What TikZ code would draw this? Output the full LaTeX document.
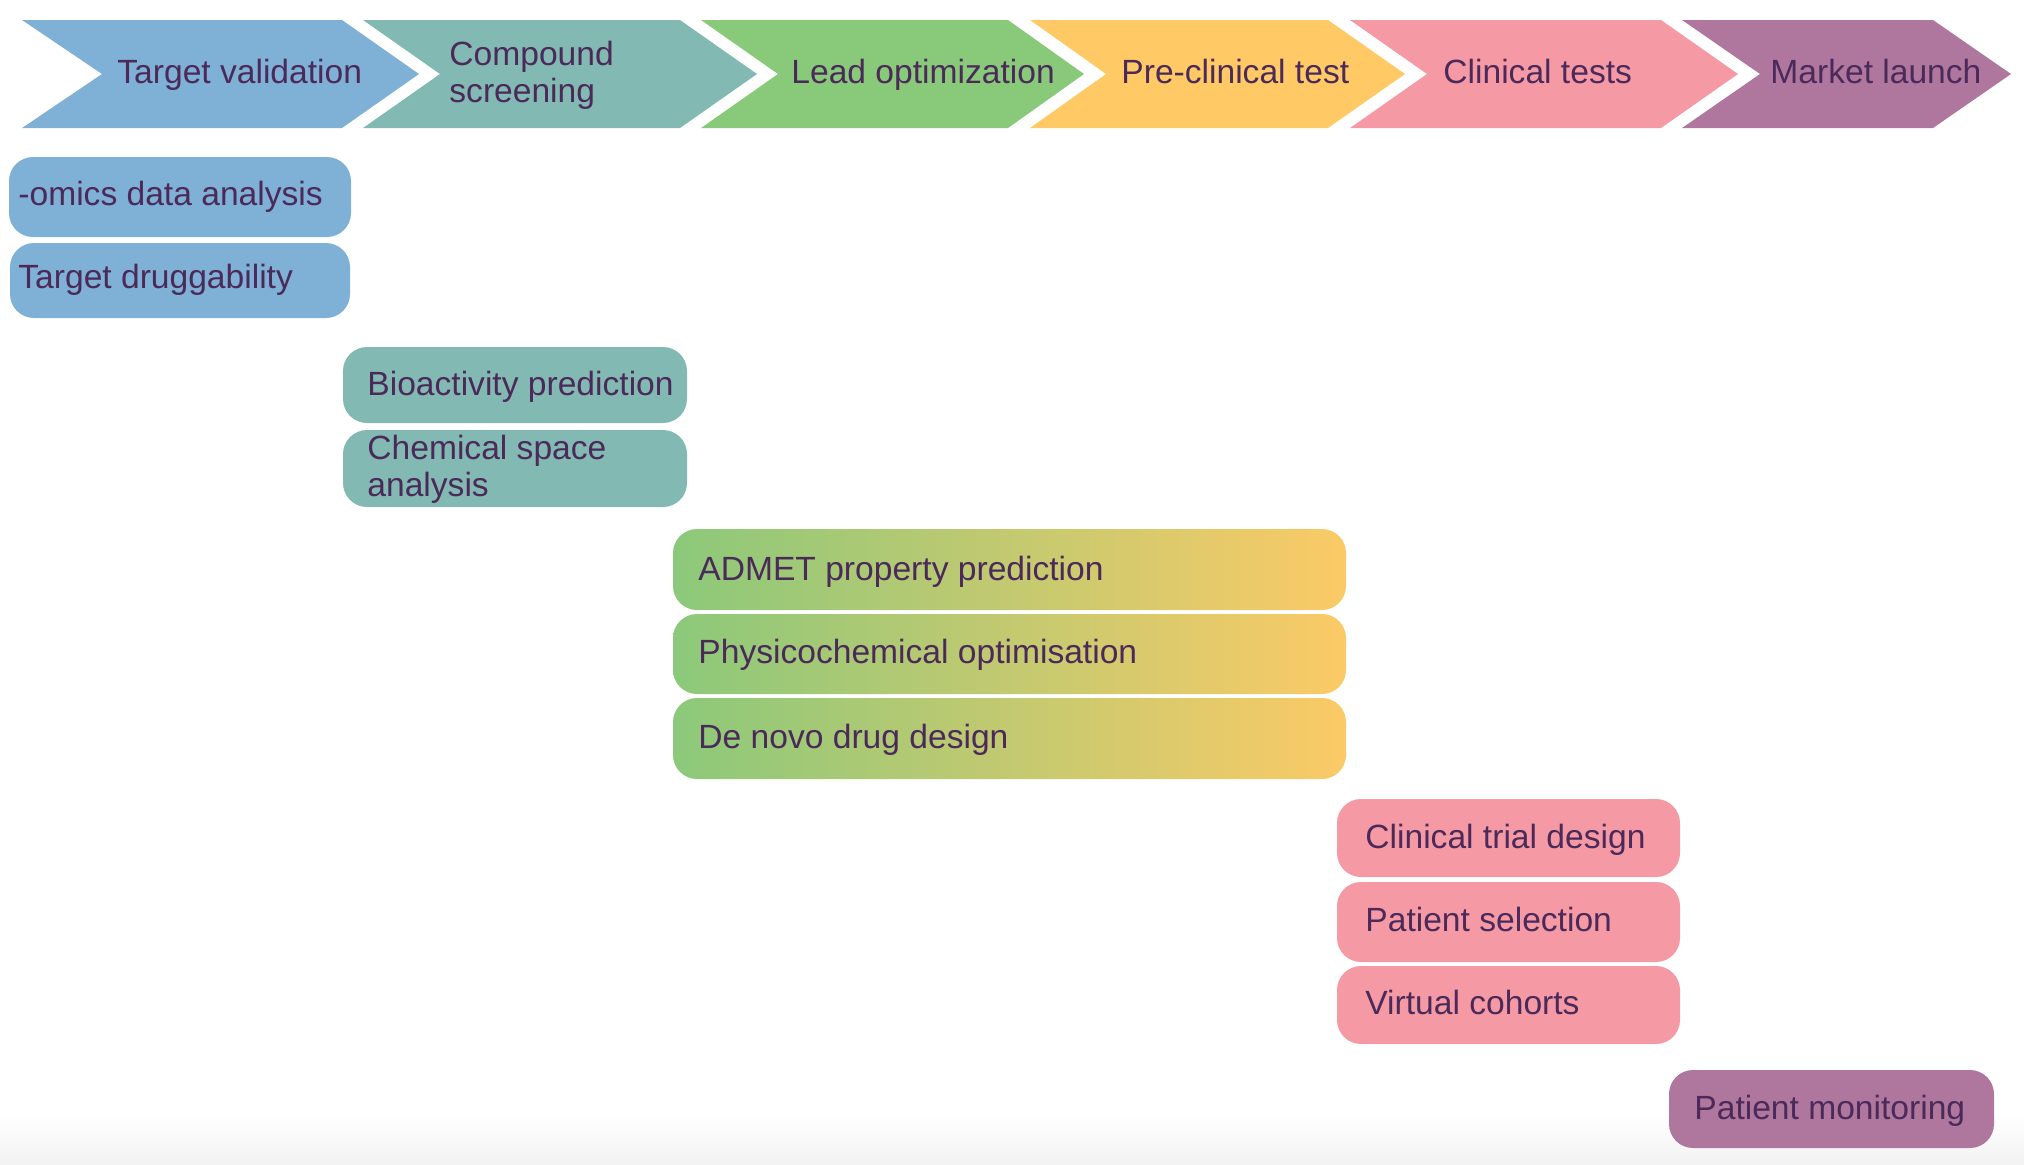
\documentclass[tikz,border=0pt]{standalone}
\usepackage{fontspec}
\setmainfont{Liberation Sans}
\definecolor{cblue}{HTML}{7FB0D5}
\definecolor{cteal}{HTML}{82BAB3}
\definecolor{cgreen}{HTML}{89C97A}
\definecolor{cyellow}{HTML}{FFCA66}
\definecolor{cpink}{HTML}{F59AA5}
\definecolor{cpurple}{HTML}{B0779E}
\definecolor{gleft}{HTML}{8BC97A}
\definecolor{gright}{HTML}{FBCA66}
\definecolor{ctext}{HTML}{4B2A5A}
\newcommand{\chev}[5]{\fill[#1] (#2,20) -- (#4,20) -- (#5,74) -- (#4,128) -- (#2,128) -- (#3,74) -- cycle;}
\newcommand{\cardbox}[5]{\fill[#1, rounded corners=12pt] (#2,#3) rectangle (#4,#5);}
\begin{document}
\begin{tikzpicture}[x=0.5pt,y=-0.5pt,
  lbl/.style={anchor=base west, inner sep=0pt, text=ctext,
    font=\fontsize{16.8}{18.5}\selectfont, align=left}]
\useasboundingbox (0,0) rectangle (2024,1164);
\shade[top color=white, bottom color=black!5] (0,1115) rectangle (2024,1164);
% chevrons
\chev{cblue}{22}{102}{342}{419}
\chev{cteal}{363}{440}{680}{757}
\chev{cgreen}{701}{778}{1008}{1084}
\chev{cyellow}{1030}{1106}{1328}{1405}
\chev{cpink}{1350}{1427}{1661}{1738}
\chev{cpurple}{1682}{1760}{1933}{2011}
\node[lbl] (s1) at (117,83) {Target validation};
\node[lbl] (s2) at (449,102) {Compound\\screening};
\node[lbl] (s3) at (791,83) {Lead optimization};
\node[lbl] (s4) at (1121,83) {Pre-clinical test};
\node[lbl] (s5) at (1443,83) {Clinical tests};
\node[lbl] (s6) at (1770,83) {Market launch};
% target validation cards
\cardbox{cblue}{9}{157}{351}{237}
\cardbox{cblue}{10}{243}{350}{318}
\node[lbl] (t1) at (18,205) {-omics data analysis};
\node[lbl] (t2) at (18,288) {Target druggability};
% compound screening cards
\cardbox{cteal}{343}{347}{687}{423}
\cardbox{cteal}{343}{430}{687}{507}
\node[lbl] (c1) at (367,395) {Bioactivity prediction};
\node[lbl] (c2) at (367,496) {Chemical space\\analysis};
% lead optimization cards
\shade[left color=gleft, right color=gright, rounded corners=12pt] (673,529) rectangle (1346,610);
\shade[left color=gleft, right color=gright, rounded corners=12pt] (673,614) rectangle (1346,694);
\shade[left color=gleft, right color=gright, rounded corners=12pt] (673,698) rectangle (1346,779);
\node[lbl] (l1) at (698,580) {ADMET property prediction};
\node[lbl] (l2) at (698,663) {Physicochemical optimisation};
\node[lbl] (l3) at (698,748) {De novo drug design};
% clinical cards
\cardbox{cpink}{1337}{799}{1680}{877}
\cardbox{cpink}{1337}{882}{1680}{962}
\cardbox{cpink}{1337}{966}{1680}{1044}
\node[lbl] (k1) at (1365,848) {Clinical trial design};
\node[lbl] (k2) at (1365,931) {Patient selection};
\node[lbl] (k3) at (1365,1014) {Virtual cohorts};
% market card
\cardbox{cpurple}{1669}{1070}{1994}{1148}
\node[lbl] (m1) at (1694,1119) {Patient monitoring};
\end{tikzpicture}
\end{document}
